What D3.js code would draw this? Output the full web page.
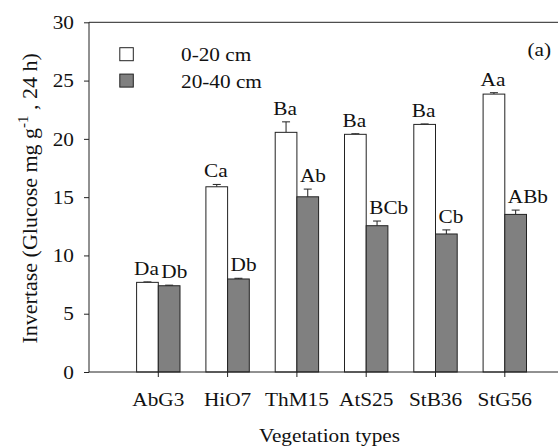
<!DOCTYPE html>
<html>
<head>
<meta charset="utf-8">
<script src="https://cdn.jsdelivr.net/npm/d3@7"></script>
<style>
  html, body { margin: 0; padding: 0; background: #fff; }
  svg { display: block; }
  text { font-family: "Liberation Serif", "Times New Roman", serif; fill: #111; }
</style>
</head>
<body>
<svg id="chart" width="558" height="448"></svg>
<script>
// ---- data ----
const categories = ["AbG3", "HiO7", "ThM15", "AtS25", "StB36", "StG56"];
const seriesNames = ["0-20 cm", "20-40 cm"];
const values0to20 = [7.69, 15.89, 20.56, 20.39, 21.24, 23.84];
const values20to40 = [7.40, 7.98, 15.03, 12.55, 11.84, 13.52];
const err0to20 = [0.04, 0.20, 0.90, 0.05, 0.04, 0.12];
const err20to40 = [0.05, 0.06, 0.66, 0.40, 0.35, 0.37];
const letters0to20 = ["Da", "Ca", "Ba", "Ba", "Ba", "Aa"];
const letters20to40 = ["Db", "Db", "Ab", "BCb", "Cb", "ABb"];
const yTicks = [0, 5, 10, 15, 20, 25, 30];

// ---- layout ----
const svg = d3.select("#chart");
const mLeft = 89, mTop = 22.3, mBottom = 372, mRight = 572;
const fs = 19, sx = 1.12;

const x = d3.scaleBand().domain(categories).range([123.65, 123.65 + 69.3 * 6]);
const y = d3.scaleLinear().domain([0, 30]).range([mBottom, mTop]);
const barW = 21.7;

const series = [
  { name: seriesNames[0], vals: values0to20, errs: err0to20, labels: letters0to20, fill: "#ffffff", off: -barW },
  { name: seriesNames[1], vals: values20to40, errs: err20to40, labels: letters20to40, fill: "#808080", off: 0 }
];

function stretchText(sel, tx, ty) {
  sel.attr("x", 0).attr("y", 0)
     .attr("transform", `translate(${tx},${ty}) scale(${sx},1)`);
}

// frame top line
svg.append("line").attr("x1", mLeft).attr("x2", mRight).attr("y1", mTop).attr("y2", mTop)
  .attr("stroke", "#222").attr("stroke-width", 1);

// bars
series.forEach((s, si) => {
  const g = svg.append("g");
  categories.forEach((c, i) => {
    const cx = x(c) + x.bandwidth() / 2;
    const x0 = cx + s.off;
    const yTop = y(s.vals[i]);
    const yErr = y(s.vals[i] + s.errs[i]);
    g.append("line").attr("x1", x0 + barW / 2).attr("x2", x0 + barW / 2)
      .attr("y1", yTop).attr("y2", yErr).attr("stroke", "#222").attr("stroke-width", 1);
    g.append("line").attr("x1", x0 + barW / 2 - 4).attr("x2", x0 + barW / 2 + 4)
      .attr("y1", yErr).attr("y2", yErr).attr("stroke", "#222").attr("stroke-width", 1);
    g.append("rect")
      .attr("x", x0).attr("y", yTop)
      .attr("width", barW).attr("height", y(0) - yTop)
      .attr("fill", s.fill).attr("stroke", "#222").attr("stroke-width", 1);
    const t = g.append("text").attr("font-size", fs).text(s.labels[i]);
    if (si === 0) {
      t.attr("text-anchor", "middle");
      stretchText(t, x0 + barW / 2 - 1, yErr - 7);
    } else {
      t.attr("text-anchor", "start");
      stretchText(t, x0 + 3, yErr - 7);
    }
  });
});

// y axis
const yAxis = svg.append("g").attr("transform", `translate(${mLeft},0)`)
  .call(d3.axisLeft(y).tickValues(yTicks).tickSize(5).tickPadding(10).tickFormat(d3.format("d")));
yAxis.select(".domain").attr("stroke", "#222").attr("d", `M0,${mBottom}V${mTop}`);
yAxis.selectAll(".tick line").attr("stroke", "#222");
yAxis.selectAll(".tick text").each(function () {
  const t = d3.select(this);
  t.attr("font-size", fs).attr("font-family", null).attr("fill", "#111").attr("dy", null);
  stretchText(t, -15, 6.2);
});

// x axis
const xAxis = svg.append("g").attr("transform", `translate(0,${mBottom})`)
  .call(d3.axisBottom(x).tickSize(5).tickPadding(10));
xAxis.select(".domain").attr("stroke", "#222").attr("d", `M${mLeft},0H${mRight}`);
xAxis.selectAll(".tick line").attr("stroke", "#222");
xAxis.selectAll(".tick text").each(function () {
  const t = d3.select(this);
  t.attr("font-size", fs).attr("font-family", null).attr("fill", "#111").attr("dy", null);
  stretchText(t, 0, 33.7);
});

// axis titles
const xt = svg.append("text").attr("font-size", fs).attr("text-anchor", "middle").text("Vegetation types");
stretchText(xt, 329.5, 442);

const yt = svg.append("text").attr("font-size", 22).attr("text-anchor", "middle")
  .attr("transform", "translate(37,198.3) rotate(-90)");
yt.append("tspan").text("Invertase (Glucose mg g");
yt.append("tspan").attr("font-size", 15).attr("dy", -9).text("-1");
yt.append("tspan").attr("dy", 9).text(" , 24 h)");

// legend
series.forEach((s, i) => {
  const ly = 47.7 + i * 26.4;
  svg.append("rect").attr("x", 119.8).attr("y", ly).attr("width", 13.5).attr("height", 13)
    .attr("fill", s.fill).attr("stroke", "#222").attr("stroke-width", 1);
  const t = svg.append("text").attr("font-size", fs).text(s.name);
  stretchText(t, 181, ly + 13.6);
});

// panel tag
const tag = svg.append("text").attr("font-size", fs).attr("text-anchor", "end").text("(a)");
stretchText(tag, 551, 55.5);
</script>
</body>
</html>
